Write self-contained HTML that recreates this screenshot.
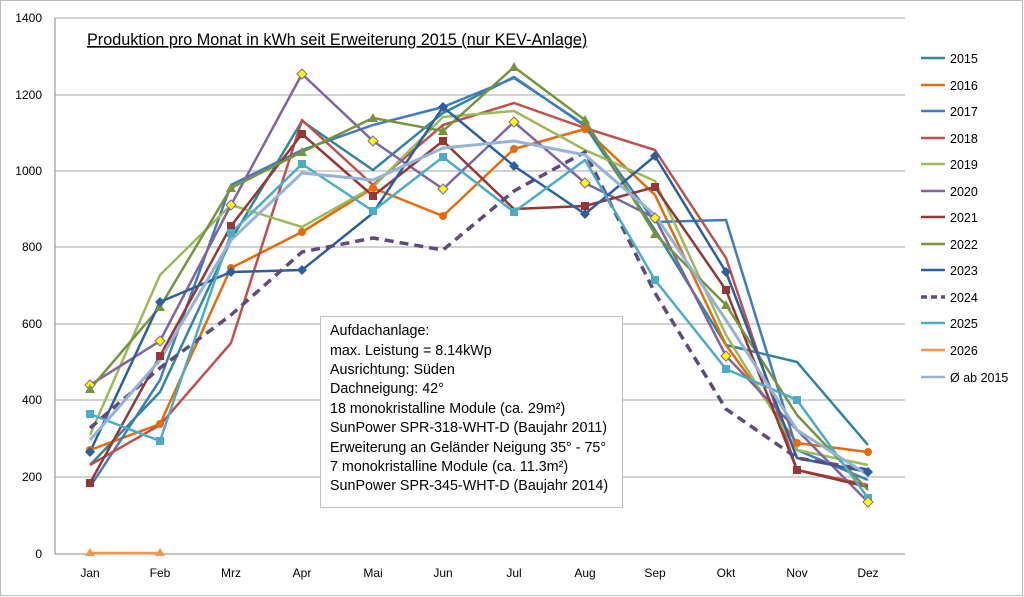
<!DOCTYPE html>
<html><head><meta charset="utf-8"><style>
body{margin:0;background:#fff}
svg{display:block;font-family:"Liberation Sans",Arial,sans-serif}
</style></head><body>
<svg width="1024" height="597" viewBox="0 0 1024 597" xmlns="http://www.w3.org/2000/svg">
<rect x="0.5" y="0.5" width="1022" height="595" fill="#fff" stroke="#bbb"/>
<g stroke="#a6a6a6" stroke-width="1">
<line x1="55" y1="18" x2="905" y2="18"/><line x1="55" y1="95" x2="905" y2="95"/><line x1="55" y1="171" x2="905" y2="171"/><line x1="55" y1="247" x2="905" y2="247"/><line x1="55" y1="324" x2="905" y2="324"/><line x1="55" y1="400" x2="905" y2="400"/><line x1="55" y1="477" x2="905" y2="477"/>
<line x1="55" y1="554" x2="905" y2="554" stroke="#888"/><line x1="55" y1="18" x2="55" y2="554" stroke="#888"/>
</g>
<g font-size="12" text-anchor="end" fill="#000">
<text x="42" y="22">1400</text><text x="42" y="99">1200</text><text x="42" y="175">1000</text><text x="42" y="251">800</text><text x="42" y="328">600</text><text x="42" y="404">400</text><text x="42" y="481">200</text><text x="42" y="558">0</text>
</g>
<g font-size="12" text-anchor="middle">
<text x="90" y="577">Jan</text><text x="160" y="577">Feb</text><text x="231" y="577">Mrz</text><text x="302" y="577">Apr</text><text x="373" y="577">Mai</text><text x="443" y="577">Jun</text><text x="514" y="577">Jul</text><text x="585" y="577">Aug</text><text x="655" y="577">Sep</text><text x="726" y="577">Okt</text><text x="797" y="577">Nov</text><text x="868" y="577">Dez</text>
</g>
<text x="87" y="45" font-size="16.2" text-decoration="underline">Produktion pro Monat in kWh seit Erweiterung 2015 (nur KEV-Anlage)</text>
<g fill="none" stroke-width="2.5" stroke-linejoin="round">
<polyline stroke="#31869b" points="90,465 160,392 231,240 302,121 373,170 443,113 514,77 585,126 655,230 726,345 797,362 868,445"/>
<polyline stroke="#e46c0a" points="90,450 160,424 231,268 302,232 373,188 443,216 514,149 585,129 655,195 726,345 797,443 868,452"/>
<polyline stroke="#3e7cc0" points="90,487 160,380 231,185 302,150 373,125 443,107 514,78 585,125 655,222 726,220 797,450 868,480"/>
<polyline stroke="#c0504d" points="90,465 160,425 231,343 302,120 373,185 443,125 514,103 585,128 655,150 726,258 797,470 868,485"/>
<polyline stroke="#9bbb59" points="90,435 160,275 231,205 302,227 373,187 443,117 514,111 585,150 655,181 726,335 797,450 868,465"/>
<polyline stroke="#8064a2" points="90,385 160,341 231,205 302,74 373,141 443,189 514,122 585,183 655,218 726,356 797,430 868,502"/>
<polyline stroke="#953735" points="90,483 160,356 231,226 302,134 373,196 443,141 514,209 585,206 655,187 726,290 797,470 868,487"/>
<polyline stroke="#77933c" points="90,389 160,307 231,188 302,152 373,118 443,131 514,67 585,120 655,234 726,305 797,415 868,490"/>
<polyline stroke="#2c5f9e" points="90,452 160,302 231,272 302,270 373,213 443,107 514,166 585,214 655,156 726,272 797,458 868,472"/>
<polyline stroke="#604a7b" stroke-width="3.5" stroke-dasharray="9,6" points="90,428 160,368 231,315 302,252 373,238 443,250 514,191 585,152 655,293 726,409 797,458 868,470"/>
<polyline stroke="#4bacc6" points="90,414 160,441 231,233 302,164 373,211 443,157 514,212 585,160 655,280 726,369 797,400 868,498"/>
<polyline stroke="#f79646" points="90,553 160,553"/>
<polyline stroke="#95b3d7" stroke-width="3" points="90,440 160,360 231,240 302,173 373,180 443,148 514,141 585,155 655,215 726,320 797,430 868,475"/>
</g>
<g fill="#f79646"><path d="M85,556 L90,548 L95,556Z"/><path d="M155,556 L160,548 L165,556Z"/></g>
<g fill="#e46c0a"><circle cx="90" cy="450" r="4"/><circle cx="160" cy="424" r="4"/><circle cx="231" cy="268" r="4"/><circle cx="302" cy="232" r="4"/><circle cx="373" cy="188" r="4"/><circle cx="443" cy="216" r="4"/><circle cx="514" cy="149" r="4"/><circle cx="585" cy="129" r="4"/><circle cx="797" cy="443" r="4"/><circle cx="868" cy="452" r="4"/></g>
<g fill="#953735"><rect x="86" y="479" width="8" height="8"/><rect x="156" y="352" width="8" height="8"/><rect x="227" y="222" width="8" height="8"/><rect x="298" y="130" width="8" height="8"/><rect x="369" y="192" width="8" height="8"/><rect x="439" y="137" width="8" height="8"/><rect x="581" y="202" width="8" height="8"/><rect x="651" y="183" width="8" height="8"/><rect x="722" y="286" width="8" height="8"/><rect x="793" y="466" width="8" height="8"/></g>
<g fill="#4bacc6"><rect x="86" y="410" width="8" height="8"/><rect x="156" y="437" width="8" height="8"/><rect x="227" y="229" width="8" height="8"/><rect x="298" y="160" width="8" height="8"/><rect x="369" y="207" width="8" height="8"/><rect x="439" y="153" width="8" height="8"/><rect x="510" y="208" width="8" height="8"/><rect x="651" y="276" width="8" height="8"/><rect x="722" y="365" width="8" height="8"/><rect x="793" y="396" width="8" height="8"/><rect x="864" y="494" width="8" height="8"/></g>
<g fill="#ffff00" stroke="#8064a2" stroke-width="1"><path d="M90,380l5,5l-5,5l-5,-5z"/><path d="M160,336l5,5l-5,5l-5,-5z"/><path d="M231,200l5,5l-5,5l-5,-5z"/><path d="M302,69l5,5l-5,5l-5,-5z"/><path d="M373,136l5,5l-5,5l-5,-5z"/><path d="M443,184l5,5l-5,5l-5,-5z"/><path d="M514,117l5,5l-5,5l-5,-5z"/><path d="M585,178l5,5l-5,5l-5,-5z"/><path d="M655,213l5,5l-5,5l-5,-5z"/><path d="M726,351l5,5l-5,5l-5,-5z"/><path d="M868,497l5,5l-5,5l-5,-5z"/></g>
<g fill="#77933c"><path d="M85,393l5,-9l5,9z"/><path d="M155,311l5,-9l5,9z"/><path d="M226,192l5,-9l5,9z"/><path d="M297,156l5,-9l5,9z"/><path d="M368,122l5,-9l5,9z"/><path d="M438,135l5,-9l5,9z"/><path d="M509,71l5,-9l5,9z"/><path d="M580,124l5,-9l5,9z"/><path d="M650,238l5,-9l5,9z"/><path d="M721,309l5,-9l5,9z"/></g>
<g fill="#2c5f9e"><path d="M90,447l5,5l-5,5l-5,-5z"/><path d="M160,297l5,5l-5,5l-5,-5z"/><path d="M231,267l5,5l-5,5l-5,-5z"/><path d="M302,265l5,5l-5,5l-5,-5z"/><path d="M443,102l5,5l-5,5l-5,-5z"/><path d="M514,161l5,5l-5,5l-5,-5z"/><path d="M585,209l5,5l-5,5l-5,-5z"/><path d="M655,151l5,5l-5,5l-5,-5z"/><path d="M726,267l5,5l-5,5l-5,-5z"/><path d="M868,467l5,5l-5,5l-5,-5z"/></g>
<rect x="320.5" y="316.5" width="302" height="191" fill="#fff" stroke="#bfbfbf"/>
<g font-size="14.3" fill="#000">
<text x="330" y="335">Aufdachanlage:</text>
<text x="330" y="355">max. Leistung  = 8.14kWp</text>
<text x="330" y="374">Ausrichtung: Süden</text>
<text x="330" y="393">Dachneigung: 42°</text>
<text x="330" y="413">18 monokristalline Module (ca. 29m²)</text>
<text x="330" y="432">SunPower SPR-318-WHT-D (Baujahr 2011)</text>
<text x="330" y="452">Erweiterung an Geländer Neigung 35° - 75°</text>
<text x="330" y="471">7 monokristalline Module (ca. 11.3m²)</text>
<text x="330" y="490">SunPower SPR-345-WHT-D (Baujahr 2014)</text>
</g>
<g stroke-width="2.5">
<line x1="921" y1="58" x2="945" y2="58" stroke="#31869b"/>
<line x1="921" y1="85" x2="945" y2="85" stroke="#e46c0a"/>
<line x1="921" y1="111" x2="945" y2="111" stroke="#3e7cc0"/>
<line x1="921" y1="138" x2="945" y2="138" stroke="#c0504d"/>
<line x1="921" y1="164" x2="945" y2="164" stroke="#9bbb59"/>
<line x1="921" y1="191" x2="945" y2="191" stroke="#8064a2"/>
<line x1="921" y1="217" x2="945" y2="217" stroke="#953735"/>
<line x1="921" y1="244" x2="945" y2="244" stroke="#77933c"/>
<line x1="921" y1="270" x2="945" y2="270" stroke="#2c5f9e"/>
<line x1="921" y1="297" x2="945" y2="297" stroke="#604a7b" stroke-width="3.5" stroke-dasharray="6,4"/>
<line x1="921" y1="323" x2="945" y2="323" stroke="#4bacc6"/>
<line x1="921" y1="350" x2="945" y2="350" stroke="#f79646"/>
<line x1="921" y1="377" x2="945" y2="377" stroke="#95b3d7"/>
</g>
<g font-size="12.5">
<text x="950" y="63">2015</text><text x="950" y="90">2016</text><text x="950" y="116">2017</text><text x="950" y="143">2018</text><text x="950" y="169">2019</text><text x="950" y="196">2020</text><text x="950" y="222">2021</text><text x="950" y="249">2022</text><text x="950" y="275">2023</text><text x="950" y="302">2024</text><text x="950" y="328">2025</text><text x="950" y="355">2026</text><text x="950" y="382">Ø ab 2015</text>
</g>
</svg>
</body></html>
